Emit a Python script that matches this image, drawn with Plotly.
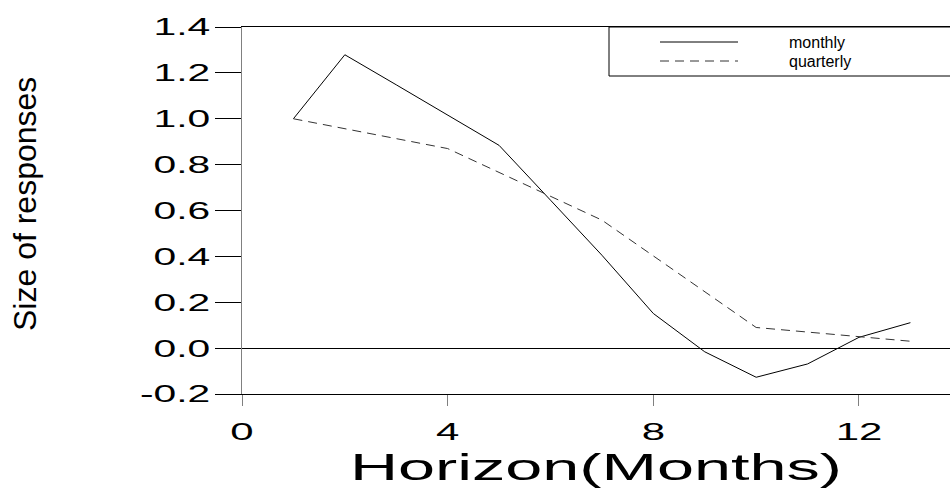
import plotly.graph_objects as go

# Impulse responses by horizon (months)
horizon_monthly = [1, 2, 3, 4, 5, 6, 7, 8, 9, 10, 11, 12, 13]
resp_monthly = [1.0, 1.279, 1.148, 1.016, 0.884, 0.645, 0.405, 0.151, -0.016, -0.127, -0.069, 0.047, 0.111]

horizon_quarterly = [1, 4, 7, 10, 13]
resp_quarterly = [1.0, 0.870, 0.558, 0.090, 0.030]

x_ticks = [0, 4, 8, 12]
y_ticks = [-0.2, 0.0, 0.2, 0.4, 0.6, 0.8, 1.0, 1.2, 1.4]

W, H = 950, 489
ML, MR, MT, MB = 242, 0, 27, 95
X_RANGE = [0, 13.77]
Y_RANGE = [-0.2, 1.4]
FONT = "Liberation Sans, Arial, sans-serif"

fig = go.Figure()
fig.add_trace(go.Scatter(
    x=horizon_monthly, y=resp_monthly, mode="lines", name="monthly",
    line=dict(color="#000000", width=1), showlegend=False,
))
fig.add_trace(go.Scatter(
    x=horizon_quarterly, y=resp_quarterly, mode="lines", name="quarterly",
    line=dict(color="#333333", width=1, dash="9px,6px"), showlegend=False,
))

plot_w = W - ML - MR
plot_h = H - MT - MB


def px_x(p):
    return (p - ML) / plot_w


def px_y(p):
    return (H - MB - p) / plot_h


# Framed key in the upper right
fig.add_shape(type="rect", xref="paper", yref="paper",
              x0=px_x(609), x1=px_x(960), y0=px_y(76), y1=1.0,
              line=dict(color="#000000", width=1), fillcolor="white", layer="above")
legend_items = [("monthly", "#000000", "solid", 42), ("quarterly", "#333333", "9px,6px", 61)]
for name, color, dash, ypx in legend_items:
    fig.add_shape(type="line", xref="paper", yref="paper",
                  x0=px_x(660), x1=px_x(738), y0=px_y(ypx), y1=px_y(ypx),
                  line=dict(color=color, width=1, dash=dash), layer="above")
    fig.add_annotation(xref="paper", yref="paper", x=px_x(787), y=px_y(ypx),
                       text=name, showarrow=False, xanchor="left", yanchor="middle",
                       font=dict(family=FONT, size=16, color="#000000"))

# Vertical axis title
fig.add_annotation(xref="paper", yref="paper", x=px_x(25), y=px_y(204),
                   text="Size of responses", textangle=-90, showarrow=False,
                   xanchor="center", yanchor="middle",
                   font=dict(family=FONT, size=32, color="#000000"))

fig.update_layout(
    width=W, height=H,
    margin=dict(l=ML, r=MR, t=MT, b=MB, pad=0),
    paper_bgcolor="white", plot_bgcolor="white",
    showlegend=False,
    xaxis=dict(
        range=X_RANGE, tickvals=x_ticks, ticktext=[str(v) for v in x_ticks],
        showgrid=False, zeroline=False,
        showline=True, linecolor="#000000", linewidth=1, mirror=True,
        ticks="outside", ticklen=11, tickcolor="#808080", tickwidth=1,
        tickfont=dict(family=FONT, size=24, color="#000000"),
        ticklabelstandoff=5,
        title=dict(text="Horizon(Months)", standoff=10,
                   font=dict(family=FONT, size=37, color="#000000")),
    ),
    yaxis=dict(
        range=Y_RANGE, tickvals=y_ticks, ticktext=[f"{v:.1f}" for v in y_ticks],
        showgrid=False,
        zeroline=True, zerolinecolor="#000000", zerolinewidth=1,
        showline=True, linecolor="#808080", linewidth=1,
        ticks="outside", ticklen=26, tickcolor="#000000", tickwidth=1,
        tickfont=dict(family=FONT, size=24, color="#000000"),
    ),
)

# Horizontal tick labels and the x title use a wide face: stretch them
# horizontally about their anchor point.
widen_text = """
var gd = document.getElementById('{plot_id}');
function widen(sel, sx) {
  gd.querySelectorAll(sel).forEach(function (t) {
    var x = parseFloat(t.getAttribute('x')) || 0;
    var tr = t.getAttribute('transform') || '';
    t.setAttribute('transform', tr + ' translate(' + x + ',0) scale(' + sx + ',1) translate(' + (-x) + ',0)');
  });
}
widen('.xtick text', 1.75);
widen('.ytick text', 1.7);
widen('.xtitle', 1.8);
"""

fig.write_html("out.html", config={"displayModeBar": False, "responsive": False},
               post_script=widen_text)
